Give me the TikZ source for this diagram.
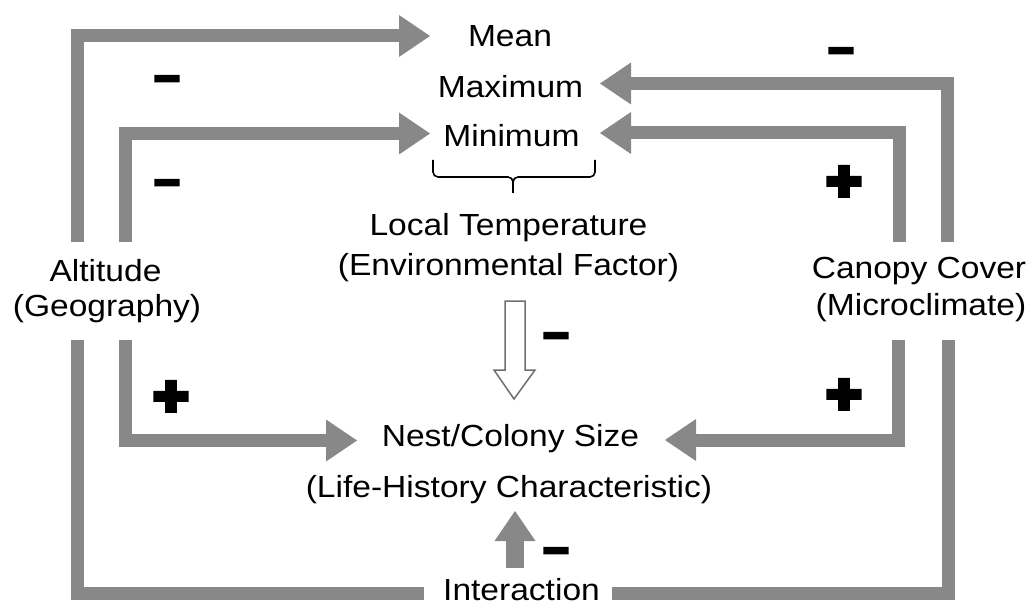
\documentclass[tikz,border=0pt]{standalone}
\usepackage{fontspec}
\setmainfont{Liberation Sans}[FakeStretch=1.1]
\newfontfamily\plusfont{Liberation Sans Bold}[FakeBold=9,FakeStretch=1.1]
\newfontfamily\minusfont{Liberation Sans Bold}[FakeBold=9,FakeStretch=1.1]
\usetikzlibrary{arrows.meta}
\definecolor{flowgray}{RGB}{136,136,136}
\definecolor{hollowgray}{RGB}{110,110,110}
\tikzset{
  lbl/.style={inner sep=0pt, anchor=base, font=\fontsize{30.5}{36}\selectfont},
  flow/.style={draw=flowgray, line width=13pt},
  flowarrow/.style={flow, -{Triangle[length=31pt,width=42pt,line width=0pt]}},
  uparrow/.style={draw=flowgray, line width=18pt, -{Triangle[length=30pt,width=41pt,line width=0pt]}},
  plussign/.style={inner sep=0pt, font=\plusfont\fontsize{55}{60}\selectfont},
  minussign/.style={inner sep=0pt, font=\minusfont\fontsize{40}{44}\selectfont},
  bracepath/.style={draw=black, line width=1.6pt, rounded corners=5pt},
  hollow/.style={draw=hollowgray, line width=1.5pt, fill=white, line join=miter},
}
\begin{document}
\begin{tikzpicture}[x=1pt,y=-1pt]
\useasboundingbox (0,0) rectangle (1034,607);
% labels
\node[lbl] (mean) at (510,47) {Mean};
\node[lbl] (max) at (510.5,98) {Maximum};
\node[lbl] (min) at (511.5,147) {Minimum};
\node[lbl] (temp) at (508.5,235) {Local Temperature};
\node[lbl] (tempsub) at (508.5,275) {(Environmental Factor)};
\node[lbl] (alt) at (105.5,281.7) {Altitude};
\node[lbl] (altsub) at (107,316) {(Geography)};
\node[lbl] (canopy) at (919,278.3) {Canopy Cover};
\node[lbl] (canopysub) at (921,315) {(Microclimate)};
\node[lbl] (nest) at (510.5,446) {Nest/Colony Size};
\node[lbl] (nestsub) at (509,497) {(Life-History Characteristic)};
\node[lbl] (inter) at (521.5,600.5) {Interaction};
% ports
\coordinate (altUpO) at (77.5,242);
\coordinate (altUpI) at (125.5,242);
\coordinate (altDnO) at (77.5,340);
\coordinate (altDnI) at (125.5,340);
\coordinate (canUpO) at (947.5,242);
\coordinate (canUpI) at (899.5,242);
\coordinate (canDnO) at (948,340);
\coordinate (canDnI) at (898,340);
\coordinate (meanL) at (430,36);
\coordinate (maxR) at (600,83.5);
\coordinate (minL) at (430,133.5);
\coordinate (minR) at (600,133);
\coordinate (nestL) at (357,440.5);
\coordinate (nestR) at (665,440);
\coordinate (interL) at (424,593.5);
\coordinate (interR) at (612,593.5);
\coordinate (interUp) at (515,568);
\coordinate (nestB) at (515,511);
% connectors
\draw[flowarrow] (altUpO) |- (meanL);
\draw[flowarrow] (altUpI) |- (minL);
\draw[flowarrow] (canUpO) |- (maxR);
\draw[flowarrow] (canUpI) |- (minR);
\draw[flowarrow] (altDnI) |- (nestL);
\draw[flowarrow] (canDnI) |- (nestR);
\draw[flow] (altDnO) |- (interL);
\draw[flow] (canDnO) |- (interR);
\draw[uparrow] (interUp) -- (nestB);
% brace
\draw[bracepath] (433,160) -- (433,177) -- (513,177) -- (513,193);
\draw[bracepath] (595,160) -- (595,177) -- (513,177) -- (513,193);
% hollow arrow
\draw[hollow] (505,301) -- (525,301) -- (525,370) -- (535,370) -- (514,399) -- (494,370) -- (505,370) -- cycle;
% signs
\node[minussign] (m1) at (167,83) {–};
\node[minussign] (m2) at (167,187) {–};
\node[minussign] (m3) at (841,55) {–};
\node[minussign] (m4) at (556,340) {–};
\node[minussign] (m5) at (556,555) {–};
\node[plussign] (p1) at (171,398.5) {+};
\node[plussign] (p2) at (844,183.5) {+};
\node[plussign] (p3) at (844,396.5) {+};
\end{tikzpicture}
\end{document}
